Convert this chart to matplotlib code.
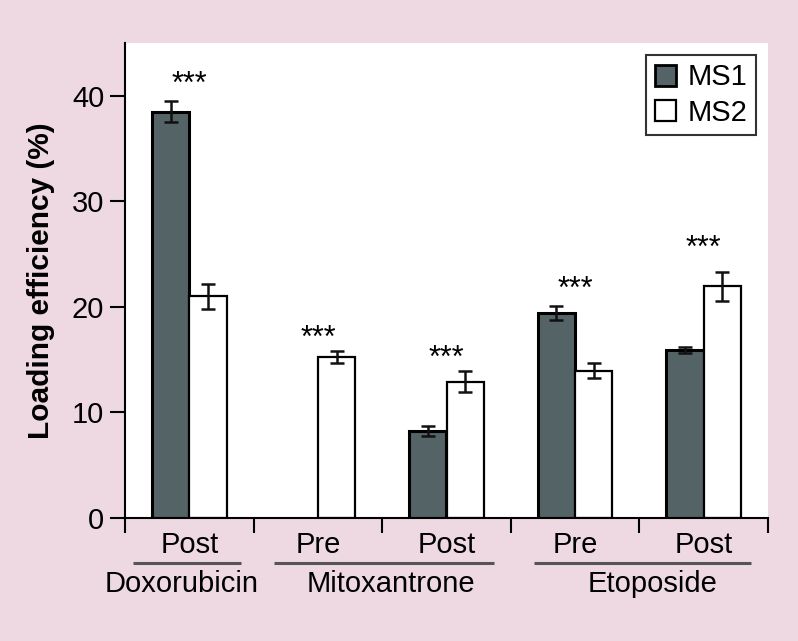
import numpy as np
import matplotlib
matplotlib.use("Agg")
import matplotlib.pyplot as plt
from matplotlib.patches import Patch

plt.rcParams['font.family'] = ['Liberation Sans', 'DejaVu Sans']

# ---- data ----
conditions = ["Post", "Pre", "Post", "Pre", "Post"]
drugs = ["Doxorubicin", "Mitoxantrone", "Etoposide"]
series_names = ["MS1", "MS2"]
ms1_values = [38.5, np.nan, 8.25, 19.45, 15.9]
ms1_errors = [1.0, np.nan, 0.5, 0.65, 0.3]
ms2_values = [21.0, 15.25, 12.9, 13.95, 21.95]
ms2_errors = [1.2, 0.6, 1.0, 0.7, 1.35]
sig_labels = ["***", "***", "***", "***", "***"]
sig_heights = [41.0, 17.0, 15.1, 21.6, 25.5]

# ---- styling ----
bg = '#EED9E3'
dark = '#536366'
fs = 21

fig = plt.figure(figsize=(7.98, 6.41), dpi=100, facecolor=bg)
ax = fig.add_axes([125/798, 1-518/641, (768-125)/798, (518-43)/641])
ax.set_facecolor('white')

n = len(conditions)
centers = np.arange(n) + 0.5
w = 0.29
ax.bar(centers - w/2, ms1_values, w, color=dark, edgecolor='black', linewidth=2.2, zorder=2)
ax.bar(centers + w/2, ms2_values, w, color='white', edgecolor='black', linewidth=1.6, zorder=2)
ax.errorbar(centers - w/2, ms1_values, yerr=ms1_errors, fmt='none', ecolor='#111111',
            elinewidth=1.8, capsize=5, capthick=1.8, zorder=3)
ax.errorbar(centers + w/2, ms2_values, yerr=ms2_errors, fmt='none', ecolor='#111111',
            elinewidth=1.8, capsize=5, capthick=1.8, zorder=3)

for c, s, h in zip(centers, sig_labels, sig_heights):
    ax.text(c, h, s, ha='center', va='center', fontsize=22, color='black')

ax.set_xlim(0, n)
ax.set_ylim(0, 45)
ax.set_yticks([0, 10, 20, 30, 40])
ax.set_xticks(np.arange(n + 1))
ax.set_xticklabels([])
ax.tick_params(axis='y', direction='out', length=11, width=1.5, labelsize=fs, pad=4)
ax.tick_params(axis='x', direction='out', length=11, width=1.5)
for sp in ['top', 'right']:
    ax.spines[sp].set_visible(False)
for sp in ['left', 'bottom']:
    ax.spines[sp].set_linewidth(1.5)

ax.set_ylabel("Loading efficiency (%)", fontsize=21.5, fontweight='bold', labelpad=12)

tr = ax.get_xaxis_transform()
for c, lab in zip(centers, conditions):
    ax.text(c, -0.057, lab, transform=tr, ha='center', va='center', fontsize=fs)

# drug group underlines and labels
drug_spans = [(0.06, 0.90), (1.16, 2.87), (3.18, 4.87)]
drug_label_x = [0.44, 2.07, 4.10]
for (x0, x1), lx, name in zip(drug_spans, drug_label_x, drugs):
    ax.plot([x0, x1], [-0.095, -0.095], transform=tr, color='#555555', lw=2.2,
            clip_on=False, solid_capstyle='butt')
    ax.text(lx, -0.139, name, transform=tr, ha='center', va='center', fontsize=fs)

handles = [Patch(facecolor=dark, edgecolor='black', linewidth=2.0),
           Patch(facecolor='white', edgecolor='black', linewidth=1.6)]
leg = ax.legend(handles, series_names, loc='upper right', fontsize=fs, frameon=True,
                fancybox=False, edgecolor='black', handlelength=0.72, handleheight=0.72,
                handletextpad=0.4, borderpad=0.3, labelspacing=0.25, borderaxespad=0.4)
leg.get_frame().set_linewidth(1.5)

fig.savefig("out.png", dpi=100, facecolor=bg)
